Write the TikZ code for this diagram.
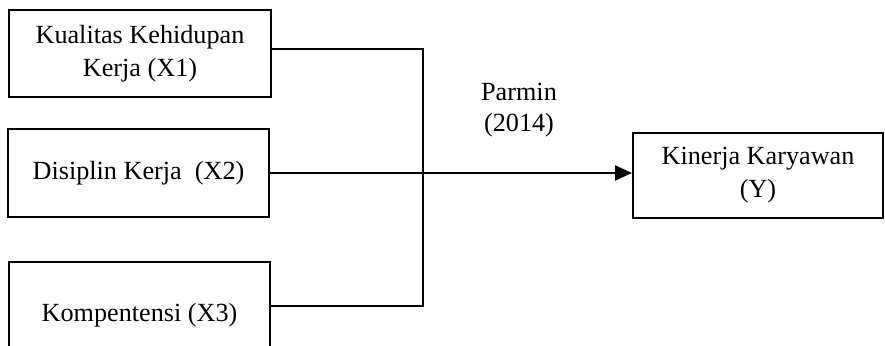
\documentclass[tikz,border=0pt]{standalone}
\usepackage{fontspec}
\setmainfont{Liberation Serif}
\usetikzlibrary{arrows.meta}

\begin{document}
\begin{tikzpicture}[x=0.5pt, y=-0.5pt, line width=0.7pt,
    varbox/.style={draw, line width=1pt, align=center, inner sep=0pt,
      font=\fontsize{13.1}{16.5}\selectfont},
    lbl/.style={align=center, font=\fontsize{13.1}{15.5}\selectfont}]
  \clip (0,0) rectangle (885,346);
  \node[varbox, minimum width=131pt, minimum height=43.5pt] (x1) at (140,53.5) {Kualitas Kehidupan\\Kerja (X1)};
  \node[varbox, minimum width=130.5pt, minimum height=44pt] (x2) at (138.5,173) {Disiplin Kerja\ \ (X2)};
  \node[varbox, minimum width=130.5pt, minimum height=53pt] (x3) at (139.5,315) {Kompentensi (X3)};
  \node[varbox, minimum width=125pt, minimum height=42.5pt] (y) at (758,175.5) {Kinerja Karyawan\\(Y)};
  \node[lbl] (src) at (519,110) {Parmin\\(2014)};
  \coordinate (j1) at (423,49);
  \coordinate (j3) at (423,306);
  \draw (x1.east |- j1) -- (j1) -- (j3) -- (x3.east |- j3);
  \draw[line width=1.1pt, -{Triangle[length=8.5pt, width=7.5pt]}] (x2.east) -- (x2.east -| y.west);
\end{tikzpicture}
\end{document}
